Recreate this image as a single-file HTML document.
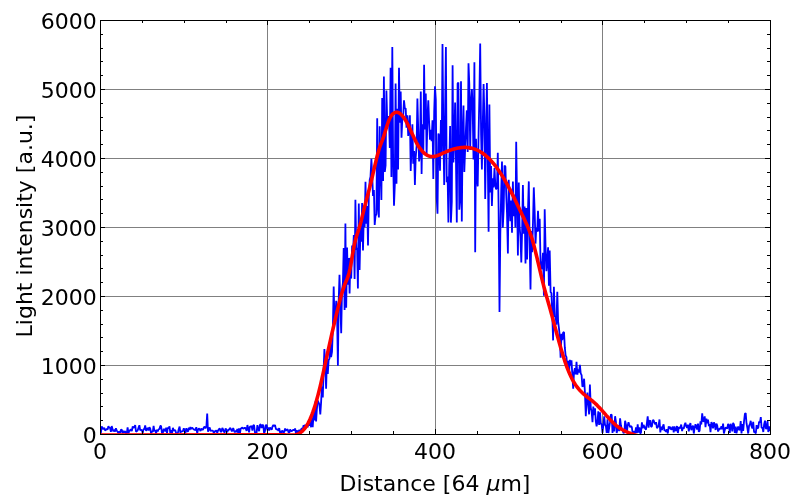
<!DOCTYPE html>
<html><head><meta charset="utf-8"><style>
html,body{margin:0;padding:0;background:#fff;}
svg{display:block;}
text{font-family:"DejaVu Sans","Liberation Sans",sans-serif;font-size:22px;fill:#000;}
</style></head><body>
<svg width="800" height="504" viewBox="0 0 800 504">
<rect width="800" height="504" fill="#fff"/>
<g stroke="#808080" stroke-width="1" shape-rendering="crispEdges">
<line x1="267.5" y1="20" x2="267.5" y2="434" />
<line x1="435.5" y1="20" x2="435.5" y2="434" />
<line x1="602.5" y1="20" x2="602.5" y2="434" />
<line x1="100" y1="365.5" x2="770" y2="365.5" />
<line x1="100" y1="296.5" x2="770" y2="296.5" />
<line x1="100" y1="227.5" x2="770" y2="227.5" />
<line x1="100" y1="158.5" x2="770" y2="158.5" />
<line x1="100" y1="89.5" x2="770" y2="89.5" />
</g>
<defs><clipPath id="c"><rect x="100" y="20" width="670" height="414.5"/></clipPath></defs>
<g clip-path="url(#c)">
<polyline fill="none" stroke="#0000ff" stroke-width="1.8" stroke-linejoin="bevel" points="100.0,433.0 100.8,433.5 101.7,426.4 102.5,428.4 103.3,429.2 104.2,427.7 105.0,430.3 105.9,430.0 106.7,428.7 107.5,429.8 108.4,426.3 109.2,427.7 110.0,427.8 110.9,431.8 111.7,426.1 112.6,429.3 113.4,431.5 114.2,429.6 115.1,431.6 115.9,428.2 116.8,430.7 117.6,431.7 118.4,433.5 119.3,431.3 120.1,433.0 120.9,429.6 121.8,429.8 122.6,433.3 123.5,430.9 124.3,432.9 125.1,431.2 126.0,433.5 126.8,433.5 127.6,427.4 128.5,433.5 129.3,430.5 130.2,430.6 131.0,429.1 131.8,431.2 132.7,426.5 133.5,427.5 134.3,427.4 135.2,425.0 136.0,431.7 136.8,431.2 137.7,430.3 138.5,427.9 139.4,425.2 140.2,430.4 141.0,429.8 141.9,430.3 142.7,433.0 143.6,429.1 144.4,429.0 145.2,425.4 146.1,430.9 146.9,429.5 147.7,427.8 148.6,430.5 149.4,427.2 150.2,428.4 151.1,433.5 151.9,431.4 152.8,431.8 153.6,425.8 154.4,431.2 155.3,430.2 156.1,433.5 156.9,429.6 157.8,431.4 158.6,429.3 159.5,429.0 160.3,426.0 161.1,426.0 162.0,433.3 162.8,433.2 163.7,428.9 164.5,429.8 165.3,431.2 166.2,427.7 167.0,433.5 167.8,427.6 168.7,428.4 169.5,426.3 170.3,433.2 171.2,430.1 172.0,433.4 172.9,427.8 173.7,430.7 174.5,430.2 175.4,430.4 176.2,433.5 177.1,433.5 177.9,432.9 178.7,429.2 179.6,426.6 180.4,432.9 181.2,431.3 182.1,431.3 182.9,431.1 183.8,428.3 184.6,430.7 185.4,433.4 186.3,428.2 187.1,430.4 187.9,431.9 188.8,427.6 189.6,430.0 190.4,427.0 191.3,429.1 192.1,427.6 193.0,428.6 193.8,429.4 194.6,429.8 195.5,430.0 196.3,427.2 197.2,433.4 198.0,429.9 198.8,428.4 199.7,429.3 200.5,431.0 201.3,428.6 202.2,429.7 203.0,429.6 203.8,427.5 204.7,426.7 205.5,428.5 206.4,426.5 207.2,413.5 208.0,431.8 208.9,428.9 209.7,427.5 210.6,431.0 211.4,430.7 212.2,430.5 213.1,431.0 213.9,433.5 214.7,431.0 215.6,431.4 216.4,430.2 217.2,432.9 218.1,430.5 218.9,429.2 219.8,428.5 220.6,431.5 221.4,431.9 222.3,427.9 223.1,429.4 223.9,431.8 224.8,432.4 225.6,428.5 226.5,430.0 227.3,432.1 228.1,429.8 229.0,430.0 229.8,428.0 230.7,428.5 231.5,430.7 232.3,431.1 233.2,427.9 234.0,430.6 234.8,432.4 235.7,430.7 236.5,432.1 237.3,429.0 238.2,432.9 239.0,428.3 239.9,433.5 240.7,428.8 241.5,428.1 242.4,427.6 243.2,428.6 244.1,428.3 244.9,427.7 245.7,428.5 246.6,431.0 247.4,425.0 248.2,428.4 249.1,432.4 249.9,426.6 250.8,426.5 251.6,426.2 252.4,430.7 253.3,425.1 254.1,425.4 254.9,432.5 255.8,433.5 256.6,432.6 257.4,425.1 258.3,429.1 259.1,431.2 260.0,424.5 260.8,424.6 261.6,428.1 262.5,424.6 263.3,425.7 264.1,433.5 265.0,430.9 265.8,425.2 266.7,425.1 267.5,430.3 268.3,427.5 269.2,430.6 270.0,427.5 270.9,428.6 271.7,429.8 272.5,426.5 273.4,424.9 274.2,426.2 275.0,425.0 275.9,428.9 276.7,429.4 277.6,429.5 278.4,430.9 279.2,428.1 280.1,432.9 280.9,433.5 281.7,431.1 282.6,430.9 283.4,432.8 284.2,431.9 285.1,428.5 285.9,430.7 286.8,429.9 287.6,429.2 288.4,432.0 289.3,432.8 290.1,429.4 290.9,430.9 291.8,431.3 292.6,430.3 293.5,429.8 294.3,430.4 295.1,428.5 296.0,433.5 296.8,430.3 297.6,432.9 298.5,431.6 299.3,429.8 300.2,432.0 301.0,429.9 301.8,428.0 302.7,429.9 303.5,425.3 304.4,426.6 305.2,424.8 306.0,427.3 306.9,425.2 307.7,427.3 308.5,422.3 309.4,425.8 310.2,421.4 311.1,427.3 311.9,417.3 312.7,427.3 313.6,413.6 314.4,420.5 315.2,401.5 316.1,421.4 316.9,408.8 317.8,400.5 318.6,402.7 319.4,404.5 320.3,414.4 321.1,402.4 321.9,386.6 322.8,397.4 323.6,370.4 324.4,349.0 325.3,365.9 326.1,388.6 327.0,356.4 327.8,374.0 328.6,360.2 329.5,358.6 330.3,342.0 331.1,357.1 332.0,351.9 332.8,330.4 333.7,286.6 334.5,322.1 335.3,318.8 336.2,300.9 337.0,310.2 337.9,365.8 338.7,300.5 339.5,274.7 340.4,307.3 341.2,333.3 342.0,291.0 342.9,282.8 343.7,248.0 344.6,309.9 345.4,223.5 346.2,307.7 347.1,247.5 347.9,284.8 348.7,258.0 349.6,293.6 350.4,257.8 351.2,278.6 352.1,245.5 352.9,254.8 353.8,235.0 354.6,279.0 355.4,199.8 356.3,249.7 357.1,247.8 357.9,288.6 358.8,203.5 359.6,269.9 360.5,225.0 361.3,241.6 362.1,202.9 363.0,250.4 363.8,215.2 364.6,227.3 365.5,181.7 366.3,223.8 367.2,206.1 368.0,245.5 368.8,196.7 369.7,180.0 370.5,176.7 371.4,158.8 372.2,175.0 373.0,195.9 373.9,190.1 374.7,225.0 375.5,216.0 376.4,214.2 377.2,118.3 378.1,208.1 378.9,217.5 379.7,126.2 380.6,171.8 381.4,200.0 382.2,97.9 383.1,180.9 383.9,76.6 384.8,171.9 385.6,165.5 386.4,90.5 387.3,124.6 388.1,117.0 388.9,117.0 389.8,147.9 390.6,67.7 391.4,176.9 392.3,46.9 393.1,157.0 394.0,205.7 394.8,185.1 395.6,83.6 396.5,183.8 397.3,108.7 398.1,169.4 399.0,67.7 399.8,122.6 400.7,91.5 401.5,137.7 402.3,119.3 403.2,116.3 404.0,100.4 404.9,108.8 405.7,108.4 406.5,127.8 407.4,115.3 408.2,135.9 409.0,128.0 409.9,115.3 410.7,171.0 411.6,145.6 412.4,124.2 413.2,163.7 414.1,150.9 414.9,184.9 415.7,157.4 416.6,146.2 417.4,98.5 418.2,128.7 419.1,161.5 419.9,154.9 420.8,91.5 421.6,174.0 422.4,124.3 423.3,152.2 424.1,64.7 424.9,129.4 425.8,93.5 426.6,155.6 427.5,116.3 428.3,100.4 429.1,121.7 430.0,139.7 430.8,129.7 431.6,141.1 432.5,120.3 433.3,178.9 434.2,111.5 435.0,86.2 435.8,99.5 436.7,197.7 437.5,213.7 438.4,133.6 439.2,135.8 440.0,170.7 440.9,120.1 441.7,153.2 442.5,43.9 443.4,136.4 444.2,184.9 445.1,109.7 445.9,47.0 446.7,182.3 447.6,176.5 448.4,222.6 449.2,165.7 450.1,126.0 450.9,222.6 451.8,201.7 452.6,65.3 453.4,162.4 454.3,140.6 455.1,102.4 455.9,156.5 456.8,222.6 457.6,83.6 458.4,82.6 459.3,209.7 460.1,199.7 461.0,81.2 461.8,221.6 462.6,138.1 463.5,105.4 464.3,172.0 465.1,150.0 466.0,128.1 466.8,110.4 467.7,152.0 468.5,63.3 469.3,83.8 470.2,150.0 471.0,101.3 471.9,89.1 472.7,110.1 473.5,159.5 474.4,62.3 475.2,252.3 476.0,138.8 476.9,174.5 477.7,186.4 478.6,133.0 479.4,95.3 480.2,43.5 481.1,134.7 481.9,169.5 482.7,127.5 483.6,84.0 484.4,116.6 485.2,198.9 486.1,136.0 486.9,83.0 487.8,160.1 488.6,231.7 489.4,104.6 490.3,192.4 491.1,166.0 491.9,205.9 492.8,178.4 493.6,187.5 494.5,168.0 495.3,184.5 496.1,189.4 497.0,186.2 497.8,152.7 498.6,207.9 499.5,312.0 500.3,235.0 501.2,191.3 502.0,161.6 502.8,227.7 503.7,208.4 504.5,165.5 505.4,166.5 506.2,194.3 507.0,213.1 507.9,253.5 508.7,179.8 509.5,202.9 510.4,221.3 511.2,200.4 512.0,232.7 512.9,181.4 513.7,216.2 514.6,194.7 515.4,227.4 516.2,141.7 517.1,199.4 517.9,255.5 518.8,182.4 519.6,226.3 520.4,236.2 521.3,262.4 522.1,231.4 522.9,185.0 523.8,233.6 524.6,206.4 525.5,263.4 526.3,208.1 527.1,259.4 528.0,209.7 528.8,181.4 529.6,240.3 530.5,289.4 531.3,231.1 532.1,252.1 533.0,222.1 533.8,187.4 534.7,212.4 535.5,243.6 536.3,227.7 537.2,231.7 538.0,210.9 538.9,231.4 539.7,218.8 540.5,260.6 541.4,269.4 542.2,265.7 543.0,252.7 543.9,295.7 544.7,209.3 545.5,245.0 546.4,271.3 547.2,261.7 548.1,247.2 548.9,285.7 549.7,250.5 550.6,292.1 551.4,293.0 552.2,311.7 553.1,340.4 553.9,286.8 554.8,316.6 555.6,316.0 556.4,324.7 557.3,291.7 558.1,321.3 559.0,328.7 559.8,336.5 560.6,357.8 561.5,333.7 562.3,340.1 563.1,332.7 564.0,332.0 564.8,347.2 565.6,355.4 566.5,357.2 567.3,368.7 568.2,360.9 569.0,374.4 569.8,359.8 570.7,365.3 571.5,360.3 572.4,376.5 573.2,388.6 574.0,372.2 574.9,368.2 575.7,374.3 576.5,361.8 577.4,374.7 578.2,369.4 579.0,372.4 579.9,364.8 580.7,373.3 581.6,375.1 582.4,386.6 583.2,385.8 584.1,378.7 584.9,392.0 585.8,416.3 586.6,400.7 587.4,392.5 588.3,405.6 589.1,414.4 589.9,384.6 590.8,408.0 591.6,411.5 592.5,422.3 593.3,406.5 594.1,415.1 595.0,408.4 595.8,421.3 596.6,426.3 597.5,421.1 598.3,411.4 599.1,424.9 600.0,412.4 600.8,423.4 601.7,424.6 602.5,433.0 603.3,425.5 604.2,416.3 605.0,424.6 605.9,426.4 606.7,433.0 607.5,419.3 608.4,433.0 609.2,427.5 610.0,422.4 610.9,414.4 611.7,414.9 612.5,433.0 613.4,423.3 614.2,431.4 615.1,416.2 615.9,421.6 616.7,433.0 617.6,428.5 618.4,427.5 619.2,431.1 620.1,418.3 620.9,425.3 621.8,429.2 622.6,429.9 623.4,433.0 624.3,432.7 625.1,420.7 626.0,424.8 626.8,433.0 627.6,426.0 628.5,422.3 629.3,424.8 630.1,427.1 631.0,426.0 631.8,427.0 632.6,433.0 633.5,433.1 634.3,431.1 635.2,433.1 636.0,427.4 636.8,432.9 637.7,424.3 638.5,432.7 639.4,427.4 640.2,433.5 641.0,432.7 641.9,422.3 642.7,428.2 643.5,424.9 644.4,426.6 645.2,428.7 646.0,429.5 646.9,423.1 647.7,416.3 648.6,427.6 649.4,421.1 650.2,420.3 651.1,427.0 651.9,426.4 652.8,420.1 653.6,420.4 654.4,422.6 655.3,424.3 656.1,422.2 656.9,428.2 657.8,427.1 658.6,425.4 659.5,419.5 660.3,432.5 661.1,426.6 662.0,430.0 662.8,426.5 663.6,424.4 664.5,430.9 665.3,429.9 666.1,431.8 667.0,429.2 667.8,433.5 668.7,426.3 669.5,428.9 670.3,426.8 671.2,429.6 672.0,429.1 672.9,426.5 673.7,432.5 674.5,426.3 675.4,430.9 676.2,430.2 677.0,426.0 677.9,433.0 678.7,427.8 679.5,427.3 680.4,428.3 681.2,424.5 682.1,431.1 682.9,427.5 683.7,428.9 684.6,424.8 685.4,422.8 686.2,426.1 687.1,427.9 687.9,424.7 688.8,431.4 689.6,426.1 690.4,423.1 691.3,430.2 692.1,427.3 693.0,425.6 693.8,433.5 694.6,428.2 695.5,424.3 696.3,426.5 697.1,429.5 698.0,423.6 698.8,431.8 699.6,430.7 700.5,421.4 701.3,424.5 702.2,413.3 703.0,421.1 703.8,421.4 704.7,416.3 705.5,427.2 706.4,418.7 707.2,423.3 708.0,419.5 708.9,426.1 709.7,424.1 710.5,432.2 711.4,422.0 712.2,423.9 713.0,428.4 713.9,422.3 714.7,424.4 715.6,430.0 716.4,423.7 717.2,425.3 718.1,431.5 718.9,429.6 719.8,428.4 720.6,429.0 721.4,426.3 722.3,429.3 723.1,423.6 723.9,433.5 724.8,430.0 725.6,427.3 726.5,428.2 727.3,428.5 728.1,424.0 729.0,425.7 729.8,433.0 730.6,423.8 731.5,426.3 732.3,431.4 733.1,422.8 734.0,424.7 734.8,432.8 735.7,426.6 736.5,433.4 737.3,429.4 738.2,426.5 739.0,430.0 739.9,429.4 740.7,421.1 741.5,433.5 742.4,424.1 743.2,430.8 744.0,421.6 744.9,413.9 745.7,413.0 746.5,423.2 747.4,428.0 748.2,433.5 749.1,425.6 749.9,424.4 750.7,420.8 751.6,426.5 752.4,428.3 753.2,421.8 754.1,432.3 754.9,431.9 755.8,433.5 756.6,425.2 757.4,428.5 758.3,427.7 759.1,421.7 760.0,422.5 760.8,417.1 761.6,427.9 762.5,427.7 763.3,432.0 764.1,424.5 765.0,420.7 765.8,428.5 766.6,428.5 767.5,421.1 768.3,432.0 769.2,426.4 770.0,431.0"/>
<polyline fill="none" stroke="#ff0000" stroke-width="3.6" stroke-linejoin="round" stroke-linecap="round" points="100.0,435.0 280.0,434.9 281.0,434.8 282.0,434.8 283.0,434.8 284.0,434.8 285.0,434.9 286.0,435.0 287.0,435.0 288.0,435.0 289.0,435.0 290.0,435.0 291.0,435.0 292.0,435.0 293.0,435.0 294.0,435.0 295.0,435.0 296.0,434.8 297.0,434.4 298.0,434.0 299.0,433.5 300.0,432.9 301.0,432.2 302.0,431.4 303.0,430.4 304.0,429.3 305.0,428.1 306.0,426.7 307.0,425.1 308.0,423.3 309.0,421.4 310.0,419.3 311.0,416.9 312.0,414.4 313.0,411.7 314.0,408.8 315.0,405.7 316.0,402.4 317.0,398.8 318.0,395.1 319.0,391.2 320.0,387.1 321.0,382.8 322.0,378.4 323.0,373.9 324.0,369.4 325.0,364.8 326.0,360.2 327.0,355.6 328.0,351.1 329.0,346.6 330.0,342.1 331.0,337.6 332.0,333.2 333.0,328.9 334.0,324.5 335.0,320.3 336.0,316.1 337.0,312.0 338.0,307.9 339.0,303.9 340.0,300.1 341.0,296.3 342.0,292.8 343.0,289.6 344.0,286.6 345.0,283.9 346.0,281.5 347.0,279.2 348.0,276.5 349.0,273.2 350.0,268.8 351.0,263.5 352.0,257.7 353.0,251.8 354.0,246.4 355.0,241.8 356.0,238.0 357.0,234.8 358.0,231.8 359.0,228.7 360.0,225.3 361.0,221.6 362.0,217.5 363.0,213.4 364.0,209.3 365.0,205.3 366.0,201.5 367.0,197.7 368.0,194.0 369.0,190.2 370.0,186.3 371.0,182.3 372.0,178.1 373.0,173.7 374.0,169.4 375.0,165.1 376.0,160.9 377.0,156.8 378.0,153.0 379.0,149.5 380.0,146.3 381.0,143.6 382.0,141.1 383.0,138.5 384.0,135.5 385.0,132.3 386.0,129.0 387.0,125.7 388.0,122.7 389.0,120.1 390.0,117.9 391.0,116.2 392.0,114.8 393.0,113.8 394.0,113.1 395.0,112.6 396.0,112.3 397.0,112.3 398.0,112.5 399.0,112.9 400.0,113.5 401.0,114.4 402.0,115.4 403.0,116.6 404.0,117.9 405.0,119.4 406.0,121.1 407.0,122.9 408.0,124.8 409.0,126.9 410.0,129.0 411.0,131.2 412.0,133.4 413.0,135.6 414.0,137.7 415.0,139.8 416.0,141.8 417.0,143.6 418.0,145.4 419.0,146.9 420.0,148.4 421.0,149.7 422.0,150.9 423.0,152.0 424.0,153.0 425.0,153.8 426.0,154.5 427.0,155.1 428.0,155.6 429.0,156.0 430.0,156.3 431.0,156.5 432.0,156.5 433.0,156.5 434.0,156.4 435.0,156.2 436.0,156.0 437.0,155.7 438.0,155.3 439.0,154.9 440.0,154.5 441.0,154.1 442.0,153.6 443.0,153.1 444.0,152.7 445.0,152.3 446.0,151.8 447.0,151.4 448.0,151.0 449.0,150.6 450.0,150.3 451.0,149.9 452.0,149.6 453.0,149.3 454.0,149.0 455.0,148.7 456.0,148.5 457.0,148.3 458.0,148.1 459.0,147.9 460.0,147.7 461.0,147.6 462.0,147.5 463.0,147.5 464.0,147.4 465.0,147.4 466.0,147.4 467.0,147.5 468.0,147.6 469.0,147.7 470.0,147.9 471.0,148.1 472.0,148.3 473.0,148.6 474.0,148.9 475.0,149.2 476.0,149.6 477.0,150.0 478.0,150.5 479.0,151.0 480.0,151.6 481.0,152.2 482.0,152.8 483.0,153.5 484.0,154.3 485.0,155.0 486.0,155.9 487.0,156.7 488.0,157.7 489.0,158.6 490.0,159.6 491.0,160.7 492.0,161.8 493.0,163.0 494.0,164.2 495.0,165.4 496.0,166.7 497.0,168.1 498.0,169.5 499.0,170.9 500.0,172.4 501.0,173.9 502.0,175.5 503.0,177.1 504.0,178.8 505.0,180.5 506.0,182.3 507.0,184.1 508.0,185.9 509.0,187.8 510.0,189.7 511.0,191.6 512.0,193.6 513.0,195.6 514.0,197.6 515.0,199.7 516.0,201.8 517.0,203.9 518.0,206.0 519.0,208.1 520.0,210.2 521.0,212.3 522.0,214.4 523.0,216.5 524.0,218.6 525.0,220.7 526.0,222.9 527.0,225.1 528.0,227.4 529.0,229.9 530.0,232.6 531.0,235.5 532.0,238.6 533.0,242.1 534.0,245.7 535.0,249.6 536.0,253.7 537.0,257.8 538.0,262.1 539.0,266.4 540.0,270.7 541.0,274.9 542.0,279.1 543.0,283.1 544.0,287.1 545.0,290.8 546.0,294.5 547.0,298.0 548.0,301.5 549.0,305.0 550.0,308.6 551.0,312.2 552.0,315.9 553.0,319.6 554.0,323.3 555.0,327.0 556.0,330.8 557.0,334.5 558.0,338.1 559.0,341.7 560.0,345.3 561.0,348.7 562.0,352.1 563.0,355.4 564.0,358.5 565.0,361.6 566.0,364.5 567.0,367.3 568.0,369.9 569.0,372.3 570.0,374.6 571.0,376.8 572.0,378.8 573.0,380.6 574.0,382.3 575.0,384.0 576.0,385.5 577.0,386.8 578.0,388.1 579.0,389.4 580.0,390.5 581.0,391.5 582.0,392.5 583.0,393.5 584.0,394.4 585.0,395.2 586.0,396.0 587.0,396.8 588.0,397.6 589.0,398.4 590.0,399.1 591.0,399.9 592.0,400.7 593.0,401.5 594.0,402.4 595.0,403.2 596.0,404.2 597.0,405.1 598.0,406.2 599.0,407.2 600.0,408.3 601.0,409.4 602.0,410.5 603.0,411.6 604.0,412.8 605.0,413.9 606.0,415.1 607.0,416.2 608.0,417.3 609.0,418.4 610.0,419.5 611.0,420.6 612.0,421.6 613.0,422.6 614.0,423.5 615.0,424.4 616.0,425.3 617.0,426.1 618.0,426.8 619.0,427.6 620.0,428.2 621.0,428.9 622.0,429.5 623.0,430.0 624.0,430.6 625.0,431.1 626.0,431.5 627.0,432.0 628.0,432.4 629.0,432.8 630.0,433.2 631.0,433.6 632.0,433.9 633.0,434.2 634.0,434.6 635.0,434.9 636.0,435.2 637.0,435.5 638.0,435.8 639.0,436.1 640.0,436.4 641.0,436.6 642.0,436.9 643.0,437.1 644.0,437.3 645.0,437.5 646.0,437.7 647.0,437.9 648.0,438.1 649.0,438.3 650.0,438.4 651.0,438.5 652.0,438.6 653.0,438.7 654.0,438.8 655.0,438.9 656.0,438.9 657.0,438.9 658.0,438.9 659.0,438.9 660.0,438.9 661.0,438.8 662.0,438.8 663.0,438.7 664.0,438.5 665.0,438.4 770.0,438.0"/>
</g>
<rect x="100.5" y="20.5" width="670" height="414" fill="none" stroke="#000" stroke-width="1" shape-rendering="crispEdges"/>
<path d="M100.5 434v-5M100.5 20v5M142.5 434v-3M142.5 20v3M184.5 434v-3M184.5 20v3M226.5 434v-3M226.5 20v3M267.5 434v-5M267.5 20v5M309.5 434v-3M309.5 20v3M351.5 434v-3M351.5 20v3M393.5 434v-3M393.5 20v3M435.5 434v-5M435.5 20v5M477.5 434v-3M477.5 20v3M519.5 434v-3M519.5 20v3M561.5 434v-3M561.5 20v3M602.5 434v-5M602.5 20v5M644.5 434v-3M644.5 20v3M686.5 434v-3M686.5 20v3M728.5 434v-3M728.5 20v3M770.5 434v-5M770.5 20v5M100 434.5h5M770 434.5h-5M100 420.5h3M770 420.5h-3M100 406.5h3M770 406.5h-3M100 393.5h3M770 393.5h-3M100 379.5h3M770 379.5h-3M100 365.5h5M770 365.5h-5M100 351.5h3M770 351.5h-3M100 337.5h3M770 337.5h-3M100 324.5h3M770 324.5h-3M100 310.5h3M770 310.5h-3M100 296.5h5M770 296.5h-5M100 282.5h3M770 282.5h-3M100 268.5h3M770 268.5h-3M100 255.5h3M770 255.5h-3M100 241.5h3M770 241.5h-3M100 227.5h5M770 227.5h-5M100 213.5h3M770 213.5h-3M100 199.5h3M770 199.5h-3M100 186.5h3M770 186.5h-3M100 172.5h3M770 172.5h-3M100 158.5h5M770 158.5h-5M100 144.5h3M770 144.5h-3M100 130.5h3M770 130.5h-3M100 117.5h3M770 117.5h-3M100 103.5h3M770 103.5h-3M100 89.5h5M770 89.5h-5M100 75.5h3M770 75.5h-3M100 61.5h3M770 61.5h-3M100 48.5h3M770 48.5h-3M100 34.5h3M770 34.5h-3M100 20.5h5M770 20.5h-5" stroke="#000" stroke-width="1" fill="none" shape-rendering="crispEdges"/>
<g text-anchor="end"><text x="96.8" y="443.0">0</text><text x="96.8" y="374.0">1000</text><text x="96.8" y="305.0">2000</text><text x="96.8" y="236.0">3000</text><text x="96.8" y="167.0">4000</text><text x="96.8" y="98.0">5000</text><text x="96.8" y="29.0">6000</text></g>
<g text-anchor="middle"><text x="100.0" y="459">0</text><text x="267.5" y="459">200</text><text x="435.0" y="459">400</text><text x="602.5" y="459">600</text><text x="770.0" y="459">800</text></g>
<text x="435" y="491" text-anchor="middle">Distance [64 <tspan font-style="italic">μ</tspan>m]</text>
<text transform="translate(32,226) rotate(-90)" text-anchor="middle">Light intensity [a.u.]</text>
</svg>
</body></html>
